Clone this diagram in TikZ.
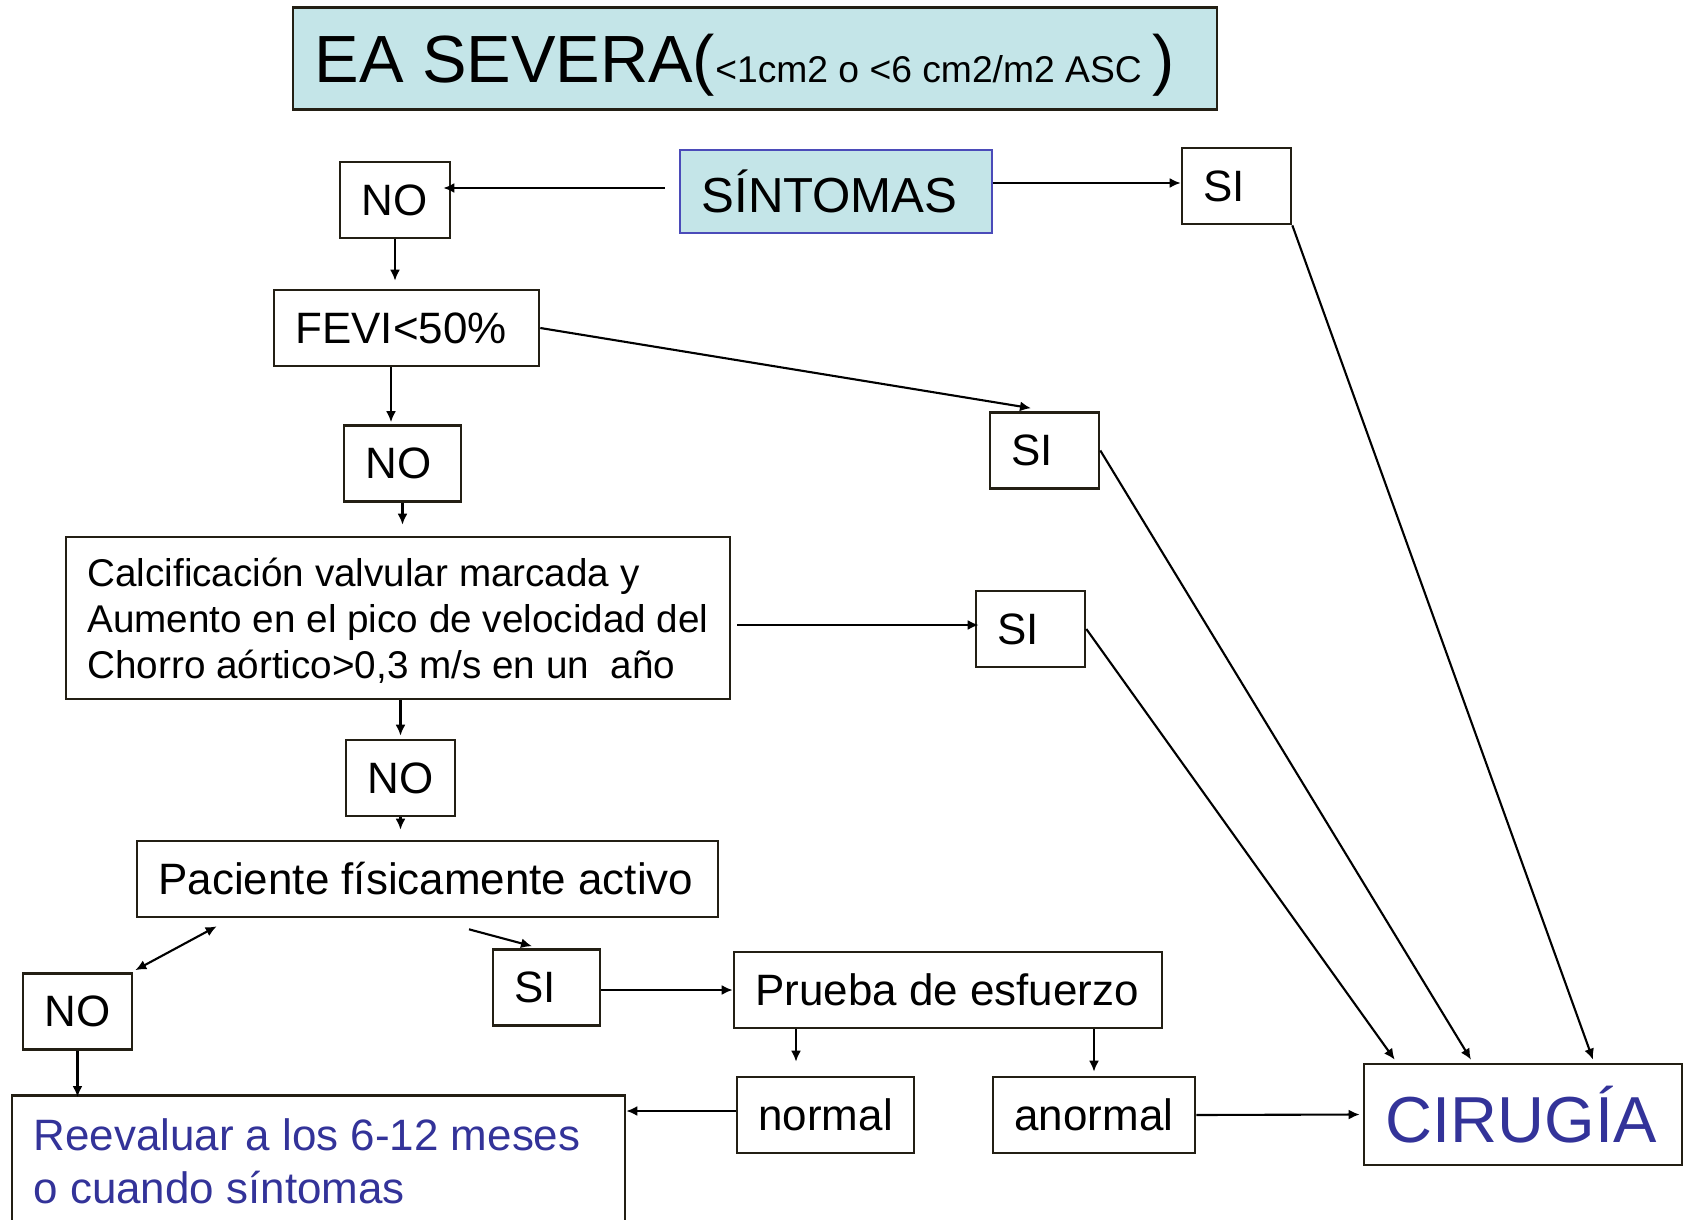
\documentclass[tikz,border=0pt]{standalone}
\usepackage{fontspec}
\setmainfont{Liberation Sans}
\usetikzlibrary{arrows.meta,calc}

\definecolor{cajaazul}{HTML}{C4E5E8}
\definecolor{bordeazul}{HTML}{4B4BB9}
\definecolor{textoazul}{HTML}{333399}
\definecolor{borde}{HTML}{231F14}

\tikzset{
  caja/.style={draw=borde, line width=0.75pt, rectangle, align=flush left,
    inner xsep=2.15mm, inner ysep=0pt, minimum height=7.6mm,
    font=\fontsize{12.5}{15}\selectfont},
  flecha/.style={line width=0.6pt, -{Latex[length=1.1mm,width=1mm]}},
  flechas/.style={line width=0.6pt, {Latex[length=1.1mm,width=1mm]}-{Latex[length=1.1mm,width=1mm]}},
}

\begin{document}
\begin{tikzpicture}[x=0.1mm, y=-0.1mm]
\useasboundingbox (0,0) rectangle (1684,1220);
\clip (0,0) rectangle (1684,1220);

% cajas
\node[caja, fill=cajaazul, text width=88.1mm, minimum height=10.2mm, text depth=0pt] (titulo) at (755,58.5)
  {{\fontsize{19}{22}\selectfont EA SEVERA(}{\fontsize{10.6}{12}\selectfont<1cm2 o <6 cm2/m2 ASC }{\fontsize{19}{22}\selectfont)}};
\node[caja, fill=cajaazul, draw=bordeazul, text width=26.9mm, minimum height=8.3mm,
  font=\fontsize{14}{17}\selectfont] (sintomas) at (836,191.5) {SÍNTOMAS};
\node[caja, text width=6.7mm] (no1) at (395,200) {NO};
\node[caja, text width=6.6mm] (si1) at (1236.5,186) {SI};
\node[caja, text width=22.2mm] (fevi) at (406.5,328) {FEVI<50\%};
\node[caja, text width=7.4mm] (no2) at (402.5,463.5) {NO};
\node[caja, text width=6.6mm] (si2) at (1044.5,450.5) {SI};
\node[caja, align=left, minimum height=16.2mm, text depth=0pt, font=\fontsize{11}{13.1}\selectfont] (calcif) at (398,618)
  {Calcificación valvular marcada y\\Aumento en el pico de velocidad del\\Chorro aórtico>0,3 m/s en un\ \ año};
\node[caja, text width=6.6mm] (si3) at (1030.5,629) {SI};
\node[caja, text width=6.6mm] (no3) at (400.5,778) {NO};
\node[caja, text width=53.8mm] (paciente) at (427.5,879) {Paciente físicamente activo};
\node[caja, text width=6.6mm] (no4) at (77.5,1011.5) {NO};
\node[caja, text width=6.4mm] (si4) at (546.5,987.5) {SI};
\node[caja, text width=38.5mm] (prueba) at (948,990) {Prueba de esfuerzo};
\node[caja, text width=13.4mm] (normal) at (825.5,1115) {normal};
\node[caja, text width=15.9mm] (anormal) at (1094,1115) {anormal};
\node[caja, text width=27.5mm, minimum height=10.1mm, text=textoazul,
  font=\fontsize{18.5}{22}\selectfont] (cirugia) at (1523,1114.5) {CIRUGÍA};
\node[caja, anchor=north, text width=57mm, minimum height=0pt, inner ysep=2.3mm, text=textoazul,
  font=\fontsize{12.5}{15.3}\selectfont] (reevaluar) at (318.5,1094)
  {Reevaluar a los 6-12 meses\\o cuando síntomas};

% flechas
\draw[flecha] ([shift={(-14,-3.5)}]sintomas.west) -- ([shift={(-8,-12)}]no1.east);
\draw[flecha] ([shift={(0,-8.5)}]sintomas.east) -- ([shift={(0,-3)}]si1.west);
\draw[flecha, shorten >=0.8mm] (no1.south) -- (no1.south |- fevi.north);
\draw[flecha, shorten >=0.2mm] ([xshift=-1.55mm]fevi.south) -- ([xshift=-1.55mm]fevi.south |- no2.north);
\draw[flecha] (fevi.east) -- ([shift={(-13.5,-3)}]si2.north);
\draw[flecha, shorten >=1.1mm] (no2.south) -- (no2.south |- calcif.north);
\draw[flecha] ([shift={(6,7)}]calcif.east) -- ([shift={(4,-4)}]si3.west);
\draw[flecha, shorten >=0.3mm] (no3.north |- calcif.south) -- (no3.north);
\draw[flecha, shorten >=1mm] (no3.south) -- (no3.south |- paciente.north);
\draw[flechas] ([shift={(81,8)}]paciente.south west) -- ([shift={(2,-2)}]no4.north east);
\draw[flecha] ([shift={(41.5,11)}]paciente.south) -- ([shift={(-14.5,-2)}]si4.north);
\draw[flecha] (si4.east |- prueba.west) -- (prueba.west);
\draw[flecha, shorten >=1.4mm] ([xshift=-2.95mm]normal.north |- prueba.south) -- ([xshift=-2.95mm]normal.north);
\draw[flecha, shorten >=0.4mm] (anormal.north |- prueba.south) -- (anormal.north);
\draw[flecha] ([shift={(0,-4)}]normal.west) -- ([shift={(0,-4)}]normal.west -| reevaluar.east);
\draw[flecha, shorten >=0.3mm] (anormal.east) -- (cirugia.west);
\draw[flecha] (no4.south) -- ([shift={(0,3)}]no4.south |- reevaluar.north);
\draw[flecha] (si1.south east) -- ([shift={(70,-3)}]cirugia.north);
\draw[flecha] (si2.east) -- ([shift={(-52,-3)}]cirugia.north);
\draw[flecha] (si3.east) -- ([shift={(32,-3)}]cirugia.north west);
\end{tikzpicture}
\end{document}
